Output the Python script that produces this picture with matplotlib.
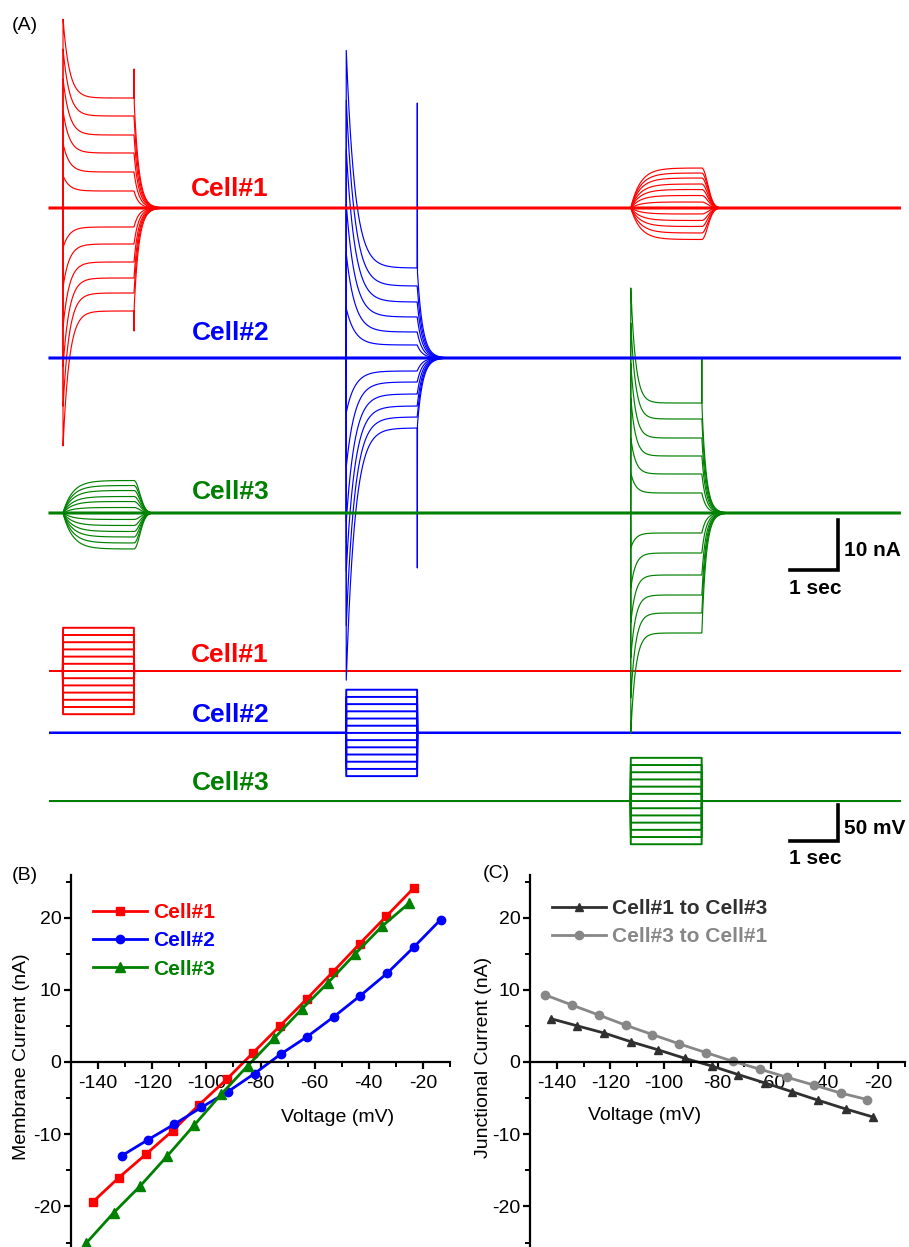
import numpy as np
import matplotlib
matplotlib.use("Agg")
import matplotlib.pyplot as plt
from matplotlib.ticker import MultipleLocator

plt.rcParams['font.family'] = ['Liberation Sans', 'DejaVu Sans']

W, H = 909, 1247
RED, BLUE, GREEN = '#ff0000', '#0000ff', '#008000'
DARK, LIGHT = '#303030', '#878787'

# ---------------- Panel A data ----------------
cells = ['Cell#1', 'Cell#2', 'Cell#3']
step_on = [0.27, 6.17, 12.1]          # s, start of the voltage step of each cell
step_dur = 1.48                        # s
record_end = 17.7                      # s
v_steps = [60, 50, 40, 30, 20, 10, 0, -10, -20, -30, -40, -50, -60]   # mV

# steady-state and initial (peak) currents of the stepped cell, nA
ss1 = [22.0, 18.4, 14.6, 11.0, 7.2, 3.4, 0.0, -3.8, -7.2, -10.8, -14.0, -17.0, -20.6]
pk1 = [38, 32, 26, 19.5, 13, 6.5, 0, -8, -16, -24, -32, -40, -48]
ss2 = [18.0, 14.4, 11.2, 8.2, 5.2, 2.6, 0.0, -2.6, -4.8, -7.2, -9.6, -11.8, -14.0]
pk2 = [62, 52, 42, 31, 21, 10, 0, -11, -22, -33, -43, -54, -65]
ss3 = [22.0, 18.8, 15.0, 11.4, 7.8, 4.0, 0.0, -4.0, -8.0, -12.4, -16.4, -20.0, -24.0]
pk3 = [45, 38, 30, 23, 15, 8, 0, -7, -15, -22, -29, -37, -44]
off_spike = [(27.8, -24.6), (51.0, -42.0), (31.0, -24.0)]   # nA, transient at step end
tau_on = [0.13, 0.18, 0.10]
tau_off = [0.10, 0.11, 0.09]

# junctional currents seen in the non-stepped coupled cell, nA
j_1to3 = [6.5, 5.5, 4.5, 3.3, 2.3, 1.1, 0.0, -1.3, -2.5, -3.7, -4.8, -6.0, -7.2]   # in cell#3, cell#1 stepped
j_3to1 = [8.0, 7.0, 6.0, 4.8, 3.7, 2.5, 1.2, 0.0, -1.2, -2.5, -3.7, -5.0, -6.3]   # in cell#1, cell#3 stepped

# ---------------- Panel B data ----------------
vB1 = [-142, -132.3, -122.4, -112.4, -102.6, -92.5, -82.7, -72.8, -63, -53.2, -43.3, -33.5, -23.4]
iB1 = [-19.4, -16.0, -12.8, -9.5, -5.9, -2.4, 1.3, 5.0, 8.7, 12.5, 16.4, 20.2, 24.1]
vB2 = [-131.3, -121.7, -111.8, -101.9, -92, -82.2, -72.5, -62.8, -52.8, -43.1, -33.2, -23.4, -13.5]
iB2 = [-13.0, -10.8, -8.6, -6.3, -4.1, -1.6, 1.1, 3.5, 6.3, 9.2, 12.3, 15.9, 19.7]
vB3 = [-144.4, -134.3, -124.5, -114.4, -104.5, -94.6, -84.8, -74.9, -64.8, -55, -45.2, -35.1, -25.1]
iB3 = [-25.1, -20.9, -17.2, -13.0, -8.75, -4.5, -0.55, 3.3, 7.3, 11.0, 14.9, 18.8, 22.0]

# ---------------- Panel C data ----------------
vC13 = [-142.2, -132.3, -122.2, -112.3, -102.3, -92.1, -82.2, -72.2, -62.3, -52.3, -42.4, -32.2, -22.1]
iC13 = [6.0, 5.0, 4.0, 2.8, 1.7, 0.5, -0.55, -1.75, -2.9, -4.1, -5.3, -6.5, -7.6]
vC31 = [-144.4, -134.4, -124.3, -114.3, -104.3, -94.2, -84.3, -74.3, -64.1, -54.2, -44, -34, -24.1]
iC31 = [9.3, 7.9, 6.5, 5.1, 3.8, 2.5, 1.3, 0.1, -1.0, -2.1, -3.2, -4.3, -5.2]

# ---------------- figure ----------------
fig = plt.figure(figsize=(W / 100, H / 100), dpi=100)


def px_axes(x0, y0, x1, y1):
    return fig.add_axes([x0 / W, 1 - y1 / H, (x1 - x0) / W, (y1 - y0) / H])


colors = [RED, BLUE, GREEN]
I_base = [0.0, -30.0, -61.0]
V_base = [0.0, -86.0, -180.6]
t = np.arange(0, record_end, 0.004)

axV = px_axes(0, 0, W, 870)
axV.set_xlim(-50 / 48, (W - 50) / 48)
axV.set_ylim((671 - 870) / 0.72, 671 / 0.72)
axV.axis('off')
axI = px_axes(0, 0, W, 870)
axI.set_xlim(-50 / 48, (W - 50) / 48)
axI.set_ylim((208 - 870) / 5, 208 / 5)
axI.axis('off')
axI.patch.set_alpha(0)
axV.patch.set_alpha(0)


def own_step(k, i):
    ss = [ss1, ss2, ss3][k][i]
    pk = [pk1, pk2, pk3][k][i]
    on = step_on[k]
    off = on + step_dur
    y = np.zeros_like(t)
    m = (t >= on) & (t < off)
    y[m] = ss + (pk - ss) * np.exp(-(t[m] - on) / tau_on[k])
    m2 = t >= off
    y[m2] = ss * np.exp(-(t[m2] - off) / tau_off[k])
    first = np.argmax(m2)
    if i == 0:
        y[first] = off_spike[k][0]
    if i == len(v_steps) - 1:
        y[first] = off_spike[k][1]
    return y


def junction(k, amp, tau_r=0.2, tau_d=0.17):
    on = step_on[k]
    off = on + step_dur
    y = np.zeros_like(t)
    m = (t >= on) & (t < off)
    y[m] = amp * (1 - np.exp(-(t[m] - on) / tau_r))
    a_off = amp * (1 - np.exp(-step_dur / tau_r))
    m2 = t >= off
    y[m2] = a_off * np.exp(-((t[m2] - off) / tau_d) ** 2)
    return y


for k in range(3):
    axI.plot(t, np.full_like(t, I_base[k]), color=colors[k], lw=2.2, zorder=3)
    for i in range(len(v_steps)):
        y = own_step(k, i)
        if k == 0:
            y = y + junction(2, j_3to1[i])
        if k == 2:
            y = y + junction(0, j_1to3[i])
        axI.plot(t, y + I_base[k], color=colors[k], lw=0.85, zorder=2)
        v = np.where((t >= step_on[k]) & (t < step_on[k] + step_dur), v_steps[i], 0.0)
        axV.plot(t, v + V_base[k], color=colors[k], lw=1.4)

# scale bars
sb_t = (838 - 50) / 48
axI.plot([sb_t - 1, sb_t, sb_t], [(208 - 570) / 5, (208 - 570) / 5, (208 - 570) / 5 + 10],
         color='black', lw=2.6, solid_joinstyle='miter')
axV.plot([sb_t - 1, sb_t, sb_t], [(671 - 841) / 0.72, (671 - 841) / 0.72, (671 - 841) / 0.72 + 50],
         color='black', lw=2.6, solid_joinstyle='miter')

# ---------------- Panels B and C ----------------
def style_iv(ax):
    ax.set_xlim(-150, -10)
    ax.set_ylim((1062 - 1247) / 7.22, (1062 - 875) / 7.22)
    for s in ['top', 'right']:
        ax.spines[s].set_visible(False)
    ax.spines['bottom'].set_position(('data', 0))
    ax.spines['left'].set_linewidth(1.6)
    ax.spines['bottom'].set_linewidth(1.6)
    ax.xaxis.set_major_locator(MultipleLocator(20))
    ax.xaxis.set_minor_locator(MultipleLocator(10))
    ax.yaxis.set_major_locator(MultipleLocator(10))
    ax.yaxis.set_minor_locator(MultipleLocator(5))
    ax.set_xticks(np.arange(-140, -10, 20))
    ax.tick_params(axis='both', which='major', direction='out', length=5, width=1.6,
                   labelsize=14)
    ax.tick_params(axis='both', which='minor', direction='out', length=3.5, width=1.4)
    ax.tick_params(axis='x', pad=4)
    ax.tick_params(axis='y', pad=2)
    ax.set_yticks([-20, -10, 0, 10, 20])
    ax.set_yticklabels(['-20', '-10', '0', '10', '20'])
    ax.set_xticklabels([str(v) for v in range(-140, -10, 20)])
    ax.patch.set_alpha(0)


axB = px_axes(71, 875, 450, H)
style_iv(axB)
axB.plot(vB1, iB1, color=RED, lw=2.0, marker='s', ms=5.5, label=cells[0])
axB.plot(vB2, iB2, color=BLUE, lw=2.0, marker='o', ms=6, label=cells[1])
axB.plot(vB3, iB3, color=GREEN, lw=2.0, marker='^', ms=6.5, label=cells[2])
legB = axB.legend(loc='upper left', bbox_to_anchor=(93 / W, 1 - 903 / H), bbox_transform=fig.transFigure,
                  frameon=False, prop={'weight': 'bold', 'size': 15}, handlelength=2.6,
                  handletextpad=0.3, labelspacing=0.45, borderpad=0, borderaxespad=0)
for txt, c in zip(legB.get_texts(), [RED, BLUE, GREEN]):
    txt.set_color(c)

axC = px_axes(530, 875, 905, H)
style_iv(axC)
axC.plot(vC13, iC13, color=DARK, lw=2.0, marker='^', ms=6, label='Cell#1 to Cell#3')
axC.plot(vC31, iC31, color=LIGHT, lw=2.0, marker='o', ms=6, label='Cell#3 to Cell#1')
legC = axC.legend(loc='upper left', bbox_to_anchor=(552 / W, 1 - 899 / H), bbox_transform=fig.transFigure,
                  frameon=False, prop={'weight': 'bold', 'size': 15}, handlelength=2.6,
                  handletextpad=0.3, labelspacing=0.45, borderpad=0, borderaxespad=0)
for txt, c in zip(legC.get_texts(), [DARK, LIGHT]):
    txt.set_color(c)

# ---------------- text overlay (pixel coordinates) ----------------
ov = fig.add_axes([0, 0, 1, 1])
ov.set_xlim(0, W)
ov.set_ylim(H, 0)
ov.axis('off')
ov.patch.set_alpha(0)

bold = dict(fontweight='bold', fontsize=19, ha='center', va='center')
ov.text(230, 189, cells[0], color=RED, **bold)
ov.text(231, 333, cells[1], color=BLUE, **bold)
ov.text(231, 492, cells[2], color=GREEN, **bold)
ov.text(230, 655, cells[0], color=RED, **bold)
ov.text(231, 715, cells[1], color=BLUE, **bold)
ov.text(231, 783, cells[2], color=GREEN, **bold)

ov.text(12, 26, '(A)', fontsize=14, ha='left', va='center')
ov.text(12, 876, '(B)', fontsize=14, ha='left', va='center')
ov.text(483, 874, '(C)', fontsize=14, ha='left', va='center')

sb = dict(fontweight='bold', fontsize=15, va='center')
ov.text(844, 551, '10 nA', ha='left', **sb)
ov.text(815, 589, '1 sec', ha='center', **sb)
ov.text(844, 829, '50 mV', ha='left', **sb)
ov.text(815, 859, '1 sec', ha='center', **sb)

ov.text(338, 1117, 'Voltage (mV)', fontsize=14, ha='center', va='center')
ov.text(645, 1115, 'Voltage (mV)', fontsize=14, ha='center', va='center')
ov.text(22, 1057, 'Membrane Current (nA)', fontsize=14, ha='center', va='center', rotation=90)
ov.text(483, 1057, 'Junctional Current (nA)', fontsize=14, ha='center', va='center', rotation=90)

fig.savefig('out.png', dpi=100)
